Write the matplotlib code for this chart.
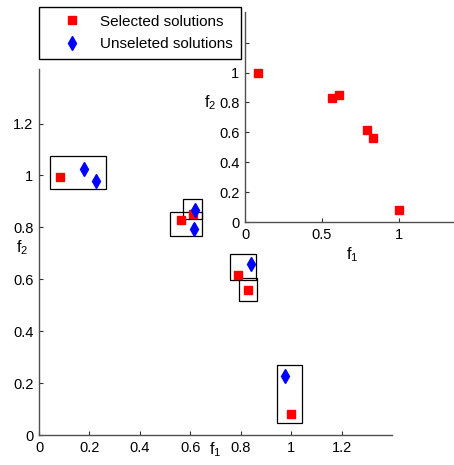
import matplotlib.pyplot as plt
from matplotlib.patches import Rectangle

plt.rcParams['font.family'] = ['Liberation Sans', 'DejaVu Sans']
plt.rcParams['font.size'] = 10

# selected / unselected solutions (f1, f2)
sel_f1 = [0.083, 0.563, 0.612, 0.790, 0.830, 1.000]
sel_f2 = [0.995, 0.830, 0.852, 0.618, 0.560, 0.082]
uns_f1 = [0.179, 0.227, 0.619, 0.616, 0.841, 0.974]
uns_f2 = [1.026, 0.978, 0.865, 0.792, 0.659, 0.228]

# boxes around each group: (x0, y0, x1, y1)
boxes = [
    (0.042, 0.948, 0.264, 1.074),
    (0.521, 0.765, 0.648, 0.859),
    (0.571, 0.831, 0.648, 0.908),
    (0.758, 0.596, 0.860, 0.699),
    (0.795, 0.517, 0.865, 0.605),
    (0.942, 0.047, 1.042, 0.268),
]

main_ticks = [0, 0.2, 0.4, 0.6, 0.8, 1, 1.2]
main_ticklabels = ['0', '0.2', '0.4', '0.6', '0.8', '1', '1.2']
inset_xticks = [0, 0.5, 1]
inset_xticklabels = ['0', '0.5', '1']
inset_yticks = [0, 0.2, 0.4, 0.6, 0.8, 1, 1.2]
inset_yticklabels = ['0', '0.2', '0.4', '0.6', '0.8', '1', '1.2']

spine_col = '#505050'


def style(ax):
    for s in ['top', 'right']:
        ax.spines[s].set_visible(False)
    for s in ['left', 'bottom']:
        ax.spines[s].set_color(spine_col)
        ax.spines[s].set_linewidth(1.0)
    ax.tick_params(direction='in', length=3, width=0.8, color='#303030',
                   labelsize=10.5, pad=4)
    ax.patch.set_alpha(0)


fig = plt.figure(figsize=(4.54, 4.65), dpi=100)

ax = fig.add_axes([39 / 454, 30 / 465, 353 / 454, 366 / 465])
ax.plot(sel_f1, sel_f2, 's', color='#ff0000', ms=5.2, mec='#ff0000',
        label='Selected solutions', zorder=3)
ax.plot(uns_f1, uns_f2, 'd', color='#0000ff', ms=7, mec='#0000ff',
        label='Unseleted solutions', zorder=3)
for x0, y0, x1, y1 in boxes:
    ax.add_patch(Rectangle((x0, y0), x1 - x0, y1 - y0, fill=False,
                           ec='black', lw=0.9, zorder=2))
ax.set_xlim(0, 1.4)
ax.set_ylim(0, 1.41)
ax.set_xticks(main_ticks)
ax.set_xticklabels(main_ticklabels)
ax.set_yticks(main_ticks)
ax.set_yticklabels(main_ticklabels)
style(ax)
ax.text(0.70, -0.041, '$\\mathregular{f_1}$', transform=ax.get_xaxis_transform(),
        ha='center', va='center', fontsize=11.5)
ax.text(-0.048, 0.72, '$\\mathregular{f_2}$', transform=ax.get_yaxis_transform(),
        ha='center', va='center', fontsize=11.5)

# inset with the selected solutions only
ins = fig.add_axes([245 / 454, 243 / 465, 209 / 454, 210 / 465])
ins.plot(sel_f1, sel_f2, 's', color='#ff0000', ms=5.2, mec='#ff0000')
ins.set_xlim(0, 1.357)
ins.set_ylim(0, 1.405)
ins.set_xticks(inset_xticks)
ins.set_xticklabels(inset_xticklabels)
ins.set_yticks(inset_yticks)
ins.set_yticklabels(inset_yticklabels)
style(ins)
ins.text(0.695, -0.157, '$\\mathregular{f_1}$', transform=ins.get_xaxis_transform(),
         ha='center', va='center', fontsize=11.5)
ins.text(-0.167, 0.80, '$\\mathregular{f_2}$', transform=ins.get_yaxis_transform(),
         ha='center', va='center', fontsize=11.5)

leg = fig.legend(handles=ax.get_lines(), loc='upper left',
                 bbox_to_anchor=(39 / 454, 1 - 7 / 465), bbox_transform=fig.transFigure,
                 fancybox=False, framealpha=1, edgecolor='black',
                 borderpad=0.5, handlelength=3.3, handletextpad=0.2,
                 labelspacing=0.55, fontsize=11, borderaxespad=0)
leg.get_frame().set_linewidth(1.0)

fig.savefig('out.png', dpi=100)
